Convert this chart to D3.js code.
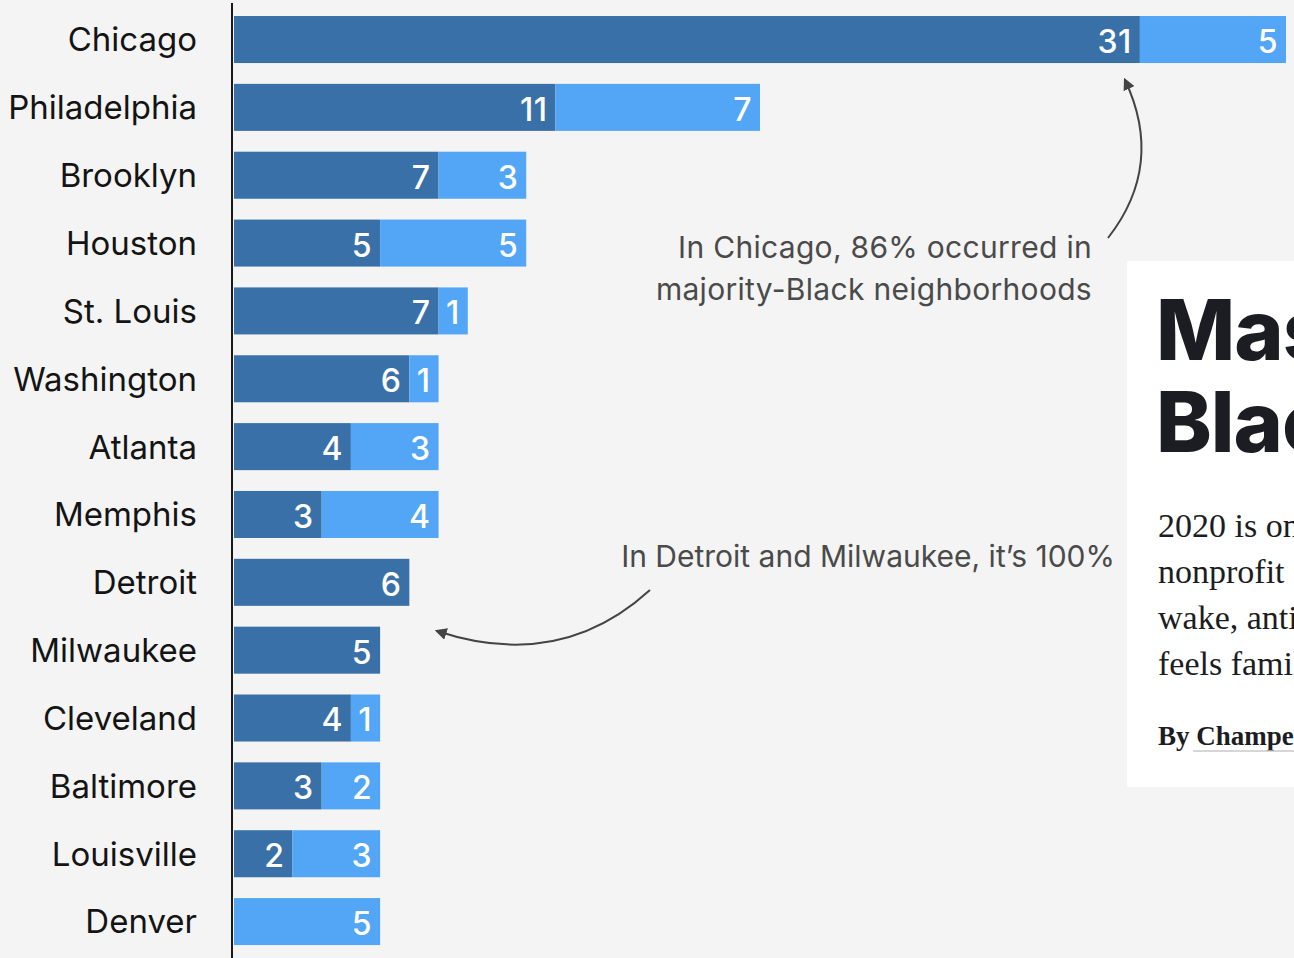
<!DOCTYPE html>
<html>
<head>
<meta charset="utf-8">
<script src="https://cdn.jsdelivr.net/npm/d3@7"></script>
<style>
  html, body { margin: 0; padding: 0; background: #f4f4f4; overflow: hidden; }
  svg { display: block; }
</style>
</head>
<body>
<svg id="chart" width="1294" height="958"></svg>
<script>
// Mass shootings by city, split by neighborhood type
const cities = ["Chicago", "Philadelphia", "Brooklyn", "Houston", "St. Louis", "Washington",
  "Atlanta", "Memphis", "Detroit", "Milwaukee", "Cleveland", "Baltimore", "Louisville", "Denver"];
const majorityBlack = [31, 11, 7, 5, 7, 6, 4, 3, 6, 5, 4, 3, 2, 0];
const otherNeighborhoods = [5, 7, 3, 5, 1, 1, 3, 4, 0, 0, 1, 2, 3, 5];
const seriesKeys = ["majorityBlack", "other"];
const seriesColors = ["#3a70a8", "#52a6f5"];

const noteChicago = ["In Chicago, 86% occurred in", "majority-Black neighborhoods"];
const noteDetroit = "In Detroit and Milwaukee, it\u2019s 100%";

const cardTitle = ["Mass", "Black"];
const cardBody = ["2020 is one of", "nonprofit", "wake, anti", "feels familiar"];
const cardByline = ["By ", "Champe Barton"];

const rows = cities.map((c, i) => ({
  city: c,
  majorityBlack: majorityBlack[i],
  other: otherNeighborhoods[i]
}));

const svg = d3.select("#chart");
const sansFont = "Inter, 'Noto Sans', sans-serif";

const x = d3.scaleLinear()
  .domain([0, d3.max(rows, d => d.majorityBlack + d.other)])
  .range([234, 1286]);

const y = d3.scaleBand()
  .domain(cities)
  .range([5.6, 955.5])
  .paddingInner(0.307)
  .paddingOuter(0.1535);

const stack = d3.stack().keys(seriesKeys);
const stacked = stack(rows);

// bars
const layers = svg.append("g")
  .selectAll("g")
  .data(stacked)
  .join("g")
  .attr("fill", (d, i) => seriesColors[i]);

layers.selectAll("rect")
  .data(d => d)
  .join("rect")
  .attr("x", d => x(d[0]))
  .attr("y", d => y(d.data.city))
  .attr("width", d => x(d[1]) - x(d[0]))
  .attr("height", y.bandwidth());

// value labels at the end of each segment
layers.selectAll("text")
  .data(d => d.filter(s => s[1] - s[0] > 0))
  .join("text")
  .attr("x", d => x(d[1]) - 8)
  .attr("y", d => y(d.data.city) + y.bandwidth() / 2)
  .attr("dy", "0.42em")
  .attr("text-anchor", "end")
  .attr("fill", "#ffffff")
  .attr("font-family", sansFont)
  .attr("font-size", 32)
  .attr("font-weight", 500)
  .attr("letter-spacing", "0.5")
  .text(d => d[1] - d[0]);

// category axis
const yAxis = svg.append("g")
  .attr("transform", "translate(232,0)")
  .call(d3.axisLeft(y).tickSize(0).tickPadding(35));
yAxis.select(".domain").remove();
yAxis.selectAll("text")
  .attr("font-family", sansFont)
  .attr("font-size", 33)
  .attr("fill", "#141414")
  .attr("dy", "0.36em");

svg.append("line")
  .attr("x1", 232).attr("x2", 232)
  .attr("y1", 3).attr("y2", 958)
  .attr("stroke", "#1a1a1a")
  .attr("stroke-width", 2);

// arrowhead
svg.append("defs").append("marker")
  .attr("id", "arrowhead")
  .attr("viewBox", "0 0 10 10")
  .attr("refX", 8).attr("refY", 5)
  .attr("markerWidth", 6).attr("markerHeight", 6)
  .attr("markerUnits", "strokeWidth")
  .attr("orient", "auto")
  .append("path")
  .attr("d", "M0,0 L10,5 L0,10 z")
  .attr("fill", "#444");

// annotations
const notes = svg.append("g")
  .attr("font-family", sansFont)
  .attr("font-size", 30)
  .attr("fill", "#4a4a4a")
  .attr("text-anchor", "end");

notes.selectAll("text.chi")
  .data(noteChicago)
  .join("text")
  .attr("class", "chi")
  .attr("x", 1092)
  .attr("y", (d, i) => 258 + i * 42)
  .attr("letter-spacing", "0.3")
  .text(d => d);

notes.append("text")
  .attr("x", 1115)
  .attr("y", 567)
  .text(noteDetroit);

const chiArrow = d3.path();
chiArrow.moveTo(1108, 238);
chiArrow.quadraticCurveTo(1165, 165, 1125, 80);
svg.append("path")
  .attr("d", chiArrow.toString())
  .attr("fill", "none")
  .attr("stroke", "#444")
  .attr("stroke-width", 2)
  .attr("marker-end", "url(#arrowhead)");

const detArrow = d3.path();
detArrow.moveTo(650, 590);
detArrow.quadraticCurveTo(560, 672, 437, 631);
svg.append("path")
  .attr("d", detArrow.toString())
  .attr("fill", "none")
  .attr("stroke", "#444")
  .attr("stroke-width", 2)
  .attr("marker-end", "url(#arrowhead)");

// article card on the right
const card = svg.append("g");
card.append("rect")
  .attr("x", 1127).attr("y", 261)
  .attr("width", 300).attr("height", 526)
  .attr("fill", "#ffffff");

card.selectAll("text.title")
  .data(cardTitle)
  .join("text")
  .attr("class", "title")
  .attr("x", 1156)
  .attr("y", (d, i) => 360 + i * 92)
  .attr("font-family", sansFont)
  .attr("font-size", 84)
  .attr("font-weight", 800)
  .attr("letter-spacing", "-1")
  .attr("fill", "#1c1d22")
  .text(d => d);

card.selectAll("text.body")
  .data(cardBody)
  .join("text")
  .attr("class", "body")
  .attr("x", 1158)
  .attr("y", (d, i) => 537 + i * 46)
  .attr("font-family", "'Liberation Serif', serif")
  .attr("font-size", 34)
  .attr("fill", "#1c1d22")
  .text(d => d);

const byline = card.append("text")
  .attr("x", 1158)
  .attr("y", 745)
  .attr("font-family", "'Liberation Serif', serif")
  .attr("font-size", 27)
  .attr("font-weight", 700)
  .attr("fill", "#1c1d22");
byline.append("tspan").text(cardByline[0]);
byline.append("tspan").text(cardByline[1]);

card.append("line")
  .attr("x1", 1193).attr("x2", 1294)
  .attr("y1", 751).attr("y2", 751)
  .attr("stroke", "#c8c8c8")
  .attr("stroke-width", 1.5);
</script>
</body>
</html>
